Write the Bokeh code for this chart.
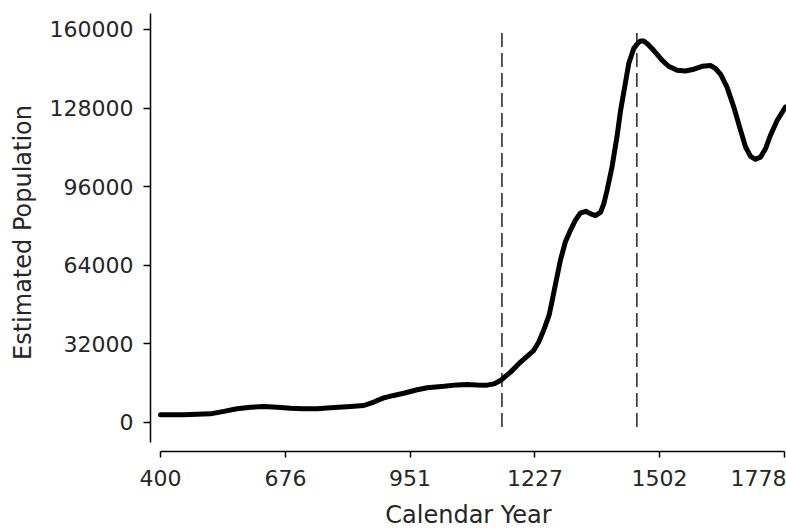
from bokeh.plotting import figure
from bokeh.models import Range1d, FixedTicker, ColumnDataSource
from bokeh.embed import file_html
from bokeh.resources import INLINE

# ---- data ----
years = [400, 451, 510, 540, 569, 599, 628, 658, 687, 716, 746, 775, 820, 849, 871,
         893, 915, 937, 967, 989, 1026, 1055, 1077, 1099, 1121, 1136, 1151, 1173,
         1195, 1224, 1235, 1246, 1258, 1265, 1274, 1283, 1294, 1305, 1316, 1327,
         1339, 1350, 1361, 1372, 1379, 1386, 1397, 1408, 1416, 1425, 1434, 1445,
         1453, 1460, 1467, 1475, 1489, 1508, 1522, 1541, 1559, 1578, 1596, 1615,
         1626, 1637, 1651, 1666, 1681, 1692, 1703, 1714, 1725, 1736, 1747, 1762,
         1780]
population = [3000, 3000, 3400, 4400, 5500, 6100, 6400, 6100, 5700, 5500, 5500, 5900,
              6400, 6800, 8200, 9900, 10900, 11800, 13200, 14000, 14600, 15200,
              15400, 15200, 15100, 15600, 17000, 20400, 24500, 29200, 32600, 37400,
              43500, 49600, 57800, 65900, 73400, 78100, 82200, 85200, 85900, 84900,
              84200, 85600, 89000, 94400, 103900, 116200, 127000, 136500, 146100,
              152200, 154200, 155300, 155300, 154200, 151500, 147400, 145000,
              143400, 143100, 143800, 145000, 145300, 144000, 141700, 136500,
              128400, 118900, 112100, 108300, 107100, 108000, 111400, 116900,
              123000, 128400]

event_years = [1154, 1452]
event_low = [-2000, -2000]
event_high = [160000, 160000]

x_ticks = [400, 676, 951, 1227, 1502, 1778]
x_tick_labels = ["400", "676", "951", "1227", "1502", "1778"]
y_ticks = [0, 32000, 64000, 96000, 128000, 160000]
y_tick_labels = ["0", "32000", "64000", "96000", "128000", "160000"]

FONT = "DejaVu Sans"
TXT = "#262626"

p = figure(width=786, height=531, output_backend="svg", toolbar_location=None,
           x_range=Range1d(377.9, 1782.4), y_range=Range1d(-11940, 166500),
           min_border_left=150, min_border_right=0, min_border_top=13,
           min_border_bottom=80)
p.outline_line_color = None
p.grid.visible = False
p.background_fill_color = "white"
p.border_fill_color = "white"

# curve
src = ColumnDataSource(dict(x=years, y=population))
p.line("x", "y", source=src, line_color="black", line_width=5,
       line_join="round", line_cap="round")

# event markers
p.segment(x0=event_years, y0=event_low, x1=event_years, y1=event_high,
          line_color="black", line_width=1.3, line_dash="14 6")

# x axis
xa = p.xaxis[0]
xa.ticker = FixedTicker(ticks=x_ticks)
xa.major_label_overrides = {t: l for t, l in zip(x_ticks, x_tick_labels)}
xa.bounds = (x_ticks[0], x_ticks[-1])
xa.axis_label = "Calendar Year"

# y axis
ya = p.yaxis[0]
ya.ticker = FixedTicker(ticks=y_ticks)
ya.major_label_overrides = {t: l for t, l in zip(y_ticks, y_tick_labels)}
ya.bounds = (-8270, 166500)
ya.axis_label = "Estimated Population"

for ax in (xa, ya):
    ax.minor_tick_line_color = None
    ax.major_tick_in = 0
    ax.axis_line_color = "black"
    ax.axis_line_width = 1.5
    ax.major_tick_line_color = "black"
    ax.major_tick_line_width = 1.5
    ax.major_label_text_font = FONT
    ax.major_label_text_font_size = "22px"
    ax.major_label_text_color = TXT
    ax.axis_label_text_font = FONT
    ax.axis_label_text_font_size = "24px"
    ax.axis_label_text_font_style = "normal"
    ax.axis_label_text_color = TXT

xa.major_tick_out = 6
xa.major_label_standoff = 12
xa.axis_label_standoff = 12
ya.major_tick_out = 7
ya.major_label_standoff = 10
ya.axis_label_standoff = 10

open("out.html", "w").write(file_html(p, INLINE))
